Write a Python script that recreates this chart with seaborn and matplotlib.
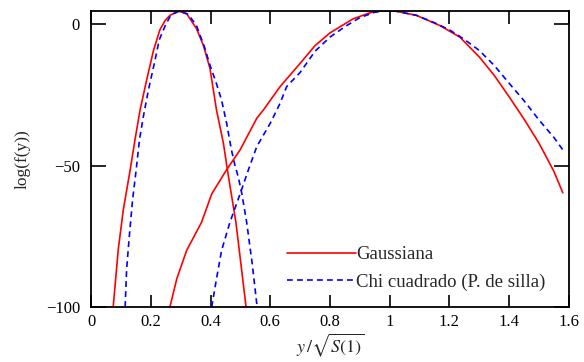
import numpy as np
import pandas as pd
import matplotlib
matplotlib.use("Agg")
import matplotlib.pyplot as plt
import seaborn as sns

# -----------------------------------
# Data
# -----------------------------------

gauss_narrow_x = [0.074, 0.091, 0.108, 0.131, 0.147, 0.164, 0.186, 0.209, 0.23,
                  0.248, 0.264, 0.292, 0.32, 0.353, 0.376, 0.398, 0.42, 0.443,
                  0.46, 0.485, 0.519]
gauss_narrow_y = [-100, -79.6, -65.5, -51.4, -40.8, -30.3, -19.7, -9.2, -2,
                  1.4, 3.2, 4.7, 3.8, -1.5, -7.4, -15.5, -30.3, -42,
                  -53.8, -70, -100]

chi_narrow_x = [0.114, 0.119, 0.128, 0.139, 0.151, 0.162, 0.175, 0.192, 0.214,
                0.228, 0.25, 0.268, 0.295, 0.325, 0.353, 0.381, 0.398, 0.42,
                0.437, 0.454, 0.47, 0.482, 0.493, 0.505, 0.521, 0.54, 0.556]
chi_narrow_y = [-100, -86.6, -74.9, -62, -51.4, -40.8, -32.6, -23.2, -12.7,
                -5.5, 0, 3.4, 4.7, 3.6, -0.4, -8.4, -14.4, -21,
                -26.8, -35, -44.4, -50, -54, -60, -70, -85, -100]

gauss_wide_x = [0.264, 0.287, 0.32, 0.37, 0.404, 0.454, 0.499, 0.555, 0.577,
                0.633, 0.7, 0.75, 0.8, 0.878, 0.934, 0.96, 1.02, 1.09, 1.168,
                1.235, 1.3, 1.35, 1.4, 1.45, 1.5, 1.55, 1.58]
gauss_wide_y = [-100, -90, -80, -70, -60, -51.4, -44.4, -33.2, -30.3,
                -22, -13.8, -7.5, -3, 2.0, 4.1, 4.7, 4.7, 3.2, -0.4,
                -4.5, -11.5, -18, -25.6, -33.5, -42, -52, -59.6]

chi_wide_x = [0.404, 0.42, 0.437, 0.465, 0.499, 0.527, 0.555, 0.6, 0.633,
              0.655, 0.7, 0.75, 0.8, 0.85, 0.9, 0.95, 0.98, 1.02, 1.09, 1.15,
              1.2, 1.25, 1.3, 1.35, 1.4, 1.45, 1.5, 1.55, 1.58]
chi_wide_y = [-100, -90, -80, -70, -60, -51.4, -43.2, -35, -27.9,
              -22, -17, -9.5, -4.5, -0.8, 2.4, 4.3, 4.7, 4.7, 3.2, 0.6,
              -1.9, -5.3, -9.2, -14.5, -20.8, -27, -33.8, -40, -44.4]

x_ticks = [0, 0.2, 0.4, 0.6, 0.8, 1, 1.2, 1.4, 1.6]
x_labels = ["0", "0.2", "0.4", "0.6", "0.8", "1", "1.2", "1.4", "1.6"]
y_ticks = [0, -50, -100]
y_labels = ["0", "\u221250", "\u2212100"]

# -----------------------------------
# Style
# -----------------------------------

sns.set_style("ticks")
plt.rcParams["font.family"] = ["Liberation Serif", "DejaVu Serif"]
plt.rcParams["mathtext.fontset"] = "stix"

fig = plt.figure(figsize=(5.84, 3.62), dpi=100)
ax = fig.add_axes([0.156, 0.152, 0.818, 0.818])

red = "#ff0000"
blue = "#0000ff"
dash = (0, (3.5, 2.5))

sns.lineplot(x=gauss_narrow_x, y=gauss_narrow_y, ax=ax, color=red,
             linewidth=1.2, label="Gaussiana")
sns.lineplot(x=chi_narrow_x, y=chi_narrow_y, ax=ax, color=blue,
             linewidth=1.2, linestyle=dash, label="Chi cuadrado (P. de silla)")
sns.lineplot(x=gauss_wide_x, y=gauss_wide_y, ax=ax, color=red,
             linewidth=1.2)
sns.lineplot(x=chi_wide_x, y=chi_wide_y, ax=ax, color=blue,
             linewidth=1.2, linestyle=dash)

ax.set_xlim(0, 1.6)
ax.set_ylim(-100, 4.8)

ax.set_xticks(x_ticks)
ax.set_xticklabels(x_labels)
ax.set_yticks(y_ticks)
ax.set_yticklabels(y_labels)

ax.tick_params(axis="x", direction="in", length=9, width=1.2, labelsize=12,
               top=True, colors="black", pad=5)
ax.tick_params(axis="y", direction="in", length=11, width=1.2, labelsize=12,
               right=True, colors="black", pad=8)

for s in ax.spines.values():
    s.set_linewidth(1.3)
    s.set_color("black")

ax.set_ylabel("log(f(y))", fontsize=12.5, labelpad=11)
ax.set_xlabel(r"$y\,/\sqrt{S(1)}$", fontsize=13, labelpad=1)

leg = ax.legend(loc="lower left", bbox_to_anchor=(0.41, 0.054), frameon=False,
                fontsize=13.5, handlelength=3.7, handletextpad=0.0,
                borderpad=0, borderaxespad=0, labelspacing=0.55)

plt.savefig("out.png", dpi=100)
plt.close()
